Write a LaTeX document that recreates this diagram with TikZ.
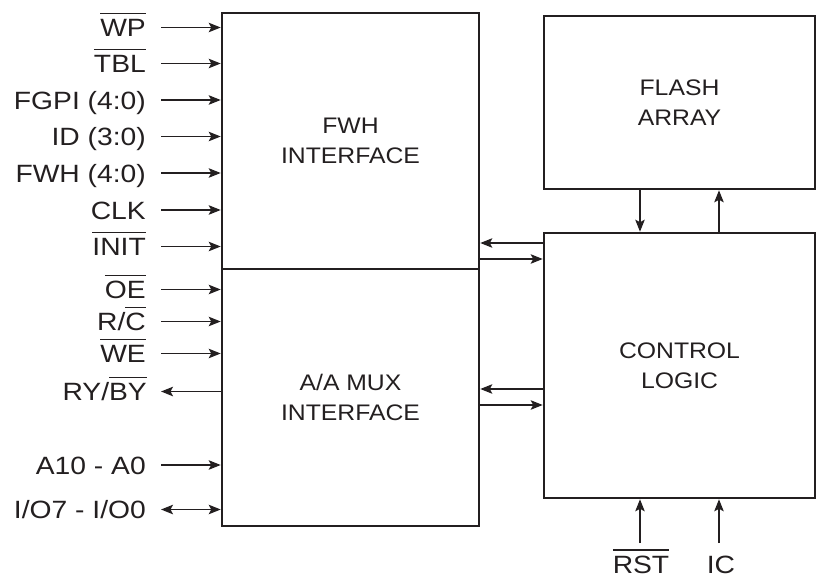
\documentclass[tikz,border=0pt]{standalone}
\usepackage{fontspec}
\setmainfont{Liberation Sans}[FakeStretch=1.1]
\newfontfamily\sigfont{Liberation Sans}[FakeStretch=1.13]
\usetikzlibrary{arrows.meta}
\definecolor{ink}{HTML}{231F20}
\newcommand\ovl[1]{\leavevmode\vbox{\hrule height 1.3pt\kern 5pt\hbox{#1}}}
\begin{document}
\begin{tikzpicture}[x=1pt,y=-1pt,
 box/.style={draw=ink, line width=2.6pt, align=center, inner sep=0pt, text=ink,
   font=\fontsize{22.5}{30}\selectfont},
 tip/.tip={Stealth[length=12pt,width=9.5pt,inset=2.5pt]},
 sig/.style={line width=1.3pt, draw=ink, -tip},
 dsig/.style={line width=1.3pt, draw=ink, tip-tip},
 lbl/.style={anchor=east, inner sep=0pt, text height=18pt, text depth=0pt, text=ink,
   font=\sigfont\fontsize{25}{30}\selectfont}]
\useasboundingbox (0,0) rectangle (816,578);

% blocks
\node[box, minimum width=257pt, minimum height=256pt] (fwh) at (350.5,141) {FWH\\INTERFACE};
\node[box, minimum width=257pt, minimum height=257pt] (mux) at (350.5,397.5) {A/A MUX\\INTERFACE};
\node[box, minimum width=271pt, minimum height=173pt] (flash) at (679.5,102.5) {FLASH\\ARRAY};
\node[box, minimum width=271pt, minimum height=265pt] (ctl) at (679.5,365.5) {CONTROL\\LOGIC};

% FWH signals
\node[lbl] (wp) at (146,27.5) {\ovl{WP}};
\node[lbl] (tbl) at (146,63.5) {\ovl{TBL}};
\node[lbl] (fgpi) at (146,100) {FGPI (4:0)};
\node[lbl] (id) at (146,136.5) {ID (3:0)};
\node[lbl] (fwhs) at (146,173) {FWH (4:0)};
\node[lbl] (clk) at (146,210) {CLK};
\node[lbl] (init) at (146,246.5) {\ovl{INIT}};
\draw[sig] ([xshift=15pt]wp.east) -- (wp.east -| fwh.west);
\draw[sig] ([xshift=15pt]tbl.east) -- (tbl.east -| fwh.west);
\draw[sig] ([xshift=15pt]fgpi.east) -- (fgpi.east -| fwh.west);
\draw[sig] ([xshift=15pt]id.east) -- (id.east -| fwh.west);
\draw[sig] ([xshift=15pt]fwhs.east) -- (fwhs.east -| fwh.west);
\draw[sig] ([xshift=15pt]clk.east) -- (clk.east -| fwh.west);
\draw[sig] ([xshift=15pt]init.east) -- (init.east -| fwh.west);

% MUX signals
\node[lbl] (oe) at (146,289.5) {\ovl{OE}};
\node[lbl] (rc) at (146,321.5) {R/\ovl{C}};
\node[lbl] (we) at (146,353.5) {\ovl{WE}};
\node[lbl] (ry) at (147,391.5) {RY/\ovl{BY}};
\node[lbl] (addr) at (146,465) {A10 - A0};
\node[lbl] (io) at (146,509.5) {I/O7 - I/O0};
\draw[sig] ([xshift=15pt]oe.east) -- (oe.east -| mux.west);
\draw[sig] ([xshift=15pt]rc.east) -- (rc.east -| mux.west);
\draw[sig] ([xshift=15pt]we.east) -- (we.east -| mux.west);
\draw[sig] (ry.east -| mux.west) -- ([xshift=14pt]ry.east);
\draw[sig] ([xshift=15pt]addr.east) -- (addr.east -| mux.west);
\draw[dsig] ([xshift=15pt]io.east) -- (io.east -| mux.west);

% interface <-> control
\draw[sig] (ctl.west |- 0,243) -- (fwh.east |- 0,243);
\draw[sig] (fwh.east |- 0,259) -- (ctl.west |- 0,259);
\draw[sig] (ctl.west |- 0,389) -- (mux.east |- 0,389);
\draw[sig] (mux.east |- 0,405) -- (ctl.west |- 0,405);

% flash <-> control
\draw[sig] (flash.south -| 640,0) -- (ctl.north -| 640,0);
\draw[sig] (ctl.north -| 719,0) -- (flash.south -| 719,0);

% bottom inputs
\node[lbl, anchor=center] (rst) at (641,564) {\ovl{RST}};
\node[lbl, anchor=center] (ic) at (721,564) {IC};
\draw[sig] ([xshift=-1pt,yshift=21pt]rst.center) -- ([xshift=-1pt]rst.center |- ctl.south);
\draw[sig] ([xshift=-2pt,yshift=21pt]ic.center) -- ([xshift=-2pt]ic.center |- ctl.south);
\end{tikzpicture}
\end{document}
